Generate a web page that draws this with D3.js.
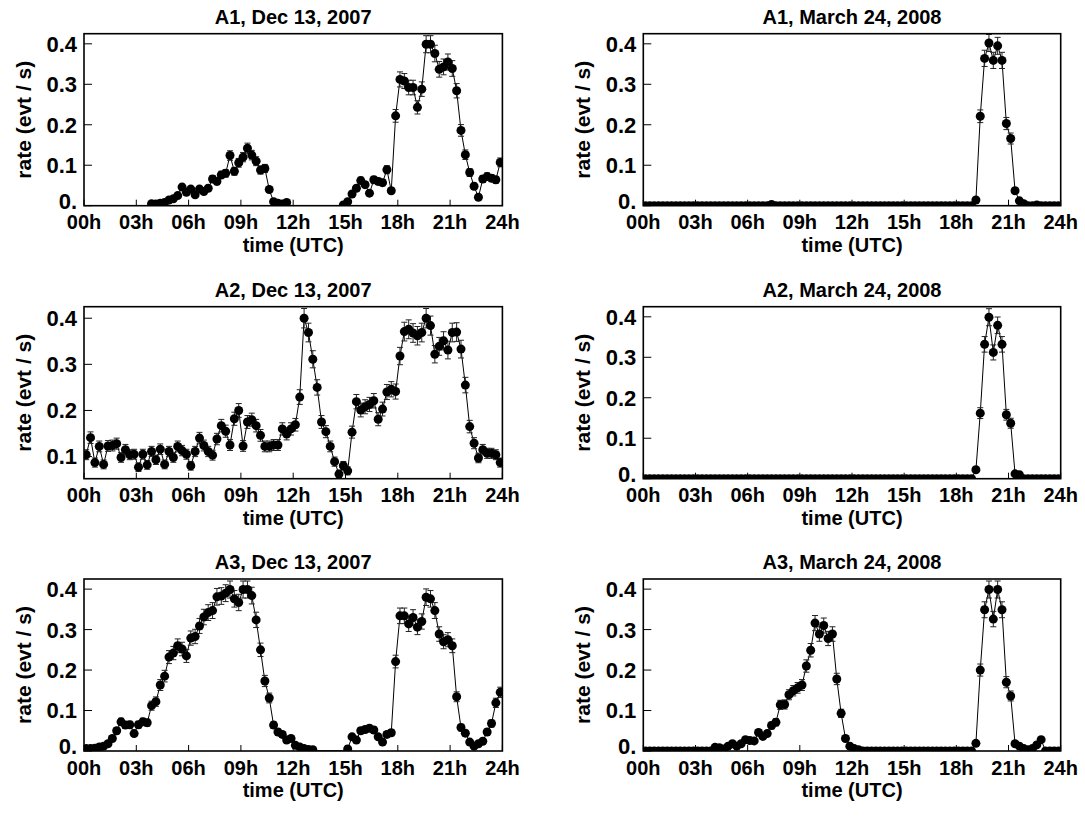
<!DOCTYPE html>
<html><head><meta charset="utf-8">
<script src="https://cdn.jsdelivr.net/npm/d3@7"></script>
<style>
body{margin:0;background:#fff}
svg{display:block}
text{font-family:"Liberation Sans",Arial,Helvetica,sans-serif;font-weight:bold;fill:#000}
</style>
</head><body>
<svg id="chart" width="1085" height="822"></svg>
<script>
// ---------- data ----------
const hourTicks = [0, 3, 6, 9, 12, 15, 18, 21, 24];
const hourLabels = ["00h", "03h", "06h", "09h", "12h", "15h", "18h", "21h", "24h"];
const rateTicks = [0, 0.1, 0.2, 0.3, 0.4];
const rateLabels = ["0.", "0.1", "0.2", "0.3", "0.4"];
const binHours = 0.25;       // 15-minute bins
const binSeconds = 900;      // Poisson error: sqrt(rate / binSeconds)

const titles = ["A1, Dec 13, 2007", "A1, March 24, 2008",
                "A2, Dec 13, 2007", "A2, March 24, 2008",
                "A3, Dec 13, 2007", "A3, March 24, 2008"];

const a1Dec = [0,0,0,0,0,0,0,0,0,0,0,0,0,0,0,
  0.005,0.004,0.006,0.008,0.014,0.017,0.025,0.046,0.033,0.041,0.027,0.041,0.035,0.043,0.066,
  0.06,0.076,0.08,0.124,0.085,0.106,0.12,0.142,0.125,0.11,0.088,0.092,0.04,0.01,0.006,
  0.004,0.008,0,0,0,0,0,0,0,0,0,0,0,0,0.002,0.01,
  0.029,0.043,0.062,0.052,0.031,0.064,0.06,0.057,0.089,0.037,0.222,0.312,0.308,0.292,0.292,
  0.243,0.288,0.399,0.399,0.376,0.337,0.343,0.355,0.339,0.284,0.186,0.126,0.082,0.048,0.021,
  0.066,0.072,0.068,0.064,0.107];

const a2Dec = [0.104,0.141,0.087,0.122,0.083,0.123,0.124,0.128,0.098,0.115,0.104,0.105,0.077,0.105,0.082,
  0.111,0.093,0.116,0.083,0.111,0.098,0.122,0.113,0.105,0.08,0.111,0.14,0.124,0.111,0.103,
  0.138,0.167,0.155,0.125,0.182,0.2,0.123,0.175,0.18,0.167,0.146,0.122,0.122,
  0.125,0.125,0.16,0.149,0.16,0.169,0.229,0.4,0.369,0.311,0.25,0.175,0.154,0.122,0.089,0.062,
  0.08,0.069,0.153,0.219,0.201,0.208,0.213,0.221,0.181,0.203,0.24,0.246,0.241,0.318,0.371,
  0.376,0.368,0.362,0.369,0.4,0.384,0.322,0.339,0.351,0.331,0.369,0.37,0.333,0.255,0.165,
  0.129,0.097,0.115,0.107,0.107,0.104,0.087];

const a3Dec = [0.006,0.006,0.007,0.01,0.012,0.018,0.031,0.05,0.072,0.064,0.065,0.043,0.065,0.072,0.07,
  0.112,0.122,0.163,0.185,0.232,0.242,0.26,0.252,0.235,0.279,0.283,0.309,0.331,0.342,0.347,
  0.381,0.383,0.39,0.399,0.376,0.367,0.399,0.399,0.384,0.324,0.25,0.173,0.131,0.064,0.047,
  0.041,0.027,0.031,0.014,0.01,0.006,0.004,0.003,0,0,0,0,0,0,0,
  0.005,0.035,0.027,0.05,0.053,0.056,0.052,0.035,0.022,0.041,0.045,0.221,0.334,0.334,0.314,
  0.33,0.306,0.32,0.38,0.376,0.347,0.289,0.27,0.275,0.26,0.134,0.058,0.044,0.022,0.012,
  0.018,0.024,0.047,0.068,0.119,0.145];

const a1Mar = [0,0,0,0,0,0,0,0,0,0,0,0,0,0,0,0,0,0,0,0,0,0,0,0,0,0,0,0,0,0.003,
  0,0,0,0,0,0,0,0,0,0,0,0,0,0,0,0,0,0,0,0,0,0,0,0,0,0,0,0,0,0,
  0,0,0,0,0,0,0,0,0,0,0,0,0,0,0,0,0.014,0.221,0.364,0.402,0.359,0.395,0.359,0.203,0.166,
  0.037,0.012,0.005,0,0,0.002,0,0,0,0,0];

const a2Mar = [0,0,0,0,0,0,0,0,0,0,0,0,0,0,0,0,0,0,0,0,0,0,0,0,0,0,0,0,0,0,
  0,0,0,0,0,0,0,0,0,0,0,0,0,0,0,0,0,0,0,0,0,0,0,0,0,0,0,0,0,0,
  0,0,0,0,0,0,0,0,0,0,0,0,0,0,0,0,0.022,0.162,0.332,0.399,0.312,0.379,0.332,0.158,0.137,
  0.012,0.01,0,0,0,0,0,0,0,0,0];

const a3Mar = [0,0,0,0,0,0,0,0,0,0,0,0,0,0,0,0,0.009,0.008,0.005,0.012,
  0.018,0.012,0.018,0.028,0.026,0.025,0.046,0.036,0.043,0.063,0.071,0.114,0.115,0.139,0.149,
  0.156,0.163,0.21,0.249,0.316,0.289,0.31,0.278,0.289,0.178,0.093,0.031,0.012,0.006,0.003,
  0,0,0,0,0,0,0,0,0,0,0,0,0,0,0,0,0,0,0,0,0,0,0,0,0,0,
  0.019,0.2,0.349,0.399,0.326,0.399,0.349,0.17,0.136,0.018,0.012,0.006,0.003,0.006,0.015,
  0.028,0,0,0,0];

const series = [a1Dec, a1Mar, a2Dec, a2Mar, a3Dec, a3Mar];
const yMins = [0, 0, 0.052, 0, 0, 0];
const yMax = 0.425;
const showZeroPoints = [false, true, false, true, false, true];

// ---------- layout ----------
const colX = [[84, 502.4], [643.3, 1060.7]];
const rowTop = [33.7, 306.7, 579];
const plotH = 172;
const r = 4.5;

const svg = d3.select("#chart");
const defs = svg.append("defs");

series.forEach((vals, k) => {
  const col = k % 2, row = Math.floor(k / 2);
  const x0 = colX[col][0], x1 = colX[col][1];
  const top = rowTop[row], bottom = top + plotH;
  const x = d3.scaleLinear().domain([0, 24]).range([x0, x1]);
  const y = d3.scaleLinear().domain([yMins[k], yMax]).range([bottom, top]);
  const data = vals.map((v, i) => ({t: (i + 0.5) * binHours, v, e: Math.sqrt(v / binSeconds)}));

  const g = svg.append("g");
  const cid = "clip" + k;
  defs.append("clipPath").attr("id", cid)
    .append("rect").attr("x", x0).attr("y", top).attr("width", x1 - x0).attr("height", plotH);

  const marks = g.append("g").attr("clip-path", `url(#${cid})`);

  // line
  marks.append("path").datum(data)
    .attr("fill", "none").attr("stroke", "#000").attr("stroke-width", 1)
    .attr("d", d3.line().x(d => x(d.t)).y(d => y(d.v)));

  // error bars
  const eb = marks.append("g").attr("stroke", "#222").attr("stroke-width", 1);
  data.forEach(d => {
    const xx = x(d.t), ylo = y(d.v - d.e), yhi = y(d.v + d.e);
    eb.append("line").attr("x1", xx).attr("x2", xx).attr("y1", ylo).attr("y2", yhi);
    eb.append("line").attr("x1", xx - 3).attr("x2", xx + 3).attr("y1", ylo).attr("y2", ylo);
    eb.append("line").attr("x1", xx - 3).attr("x2", xx + 3).attr("y1", yhi).attr("y2", yhi);
  });

  // points
  marks.append("g").selectAll("circle")
    .data(data.filter(d => showZeroPoints[k] || d.v > 0))
    .join("circle")
    .attr("cx", d => x(d.t)).attr("cy", d => y(d.v)).attr("r", r).attr("fill", "#000");

  // frame
  g.append("rect").attr("x", x0).attr("y", top).attr("width", x1 - x0).attr("height", plotH)
    .attr("fill", "none").attr("stroke", "#000").attr("stroke-width", 1.6);

  // y ticks (inward)
  rateTicks.forEach((tv, j) => {
    if (tv < yMins[k] - 1e-9) return;
    const yy = y(tv);
    g.append("line").attr("x1", x0).attr("x2", x0 + 8).attr("y1", yy).attr("y2", yy)
      .attr("stroke", "#000").attr("stroke-width", 1);
    g.append("text").attr("x", x0 - 7).attr("y", tv === yMins[k] ? yy - 5 : yy)
      .attr("dy", "0.36em").attr("text-anchor", "end").style("font-size", "22px")
      .text(rateLabels[j]);
  });

  // x ticks (inward)
  hourTicks.forEach((h, j) => {
    const xx = x(h);
    g.append("line").attr("x1", xx).attr("x2", xx).attr("y1", bottom).attr("y2", bottom - 6)
      .attr("stroke", "#000").attr("stroke-width", 1);
    g.append("text").attr("x", xx).attr("y", bottom + 23.5).attr("text-anchor", "middle")
      .style("font-size", "20px").text(hourLabels[j]);
  });

  const cx = (x0 + x1) / 2;
  g.append("text").attr("x", cx).attr("y", bottom + 46).attr("text-anchor", "middle")
    .style("font-size", "20px").text("time (UTC)");
  g.append("text").attr("x", cx).attr("y", top - 10).attr("text-anchor", "middle")
    .style("font-size", "20px").text(titles[k]);
  const lx = col === 0 ? 23 : 582;
  g.append("text").attr("transform", `translate(${lx},${(top + bottom) / 2}) rotate(-90)`)
    .attr("text-anchor", "middle").attr("dy", "0.36em").style("font-size", "21px")
    .text("rate (evt / s)");
});
</script>
</body></html>
